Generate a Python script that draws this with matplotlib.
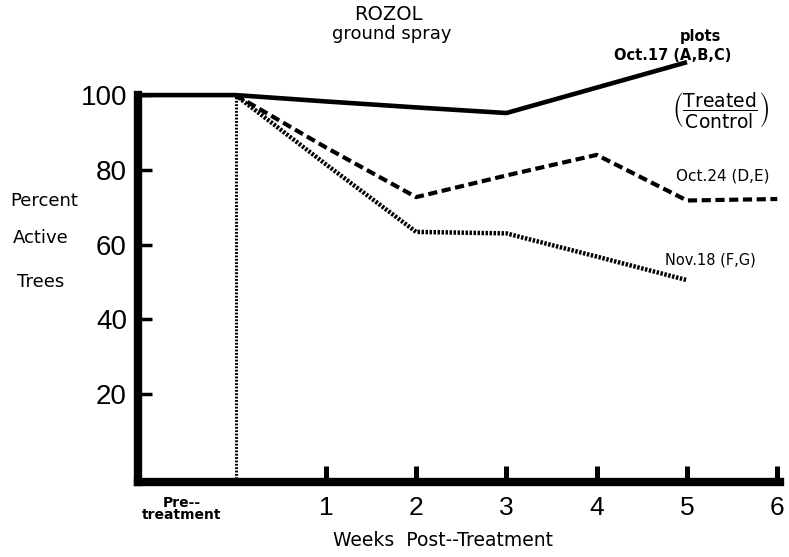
import matplotlib
matplotlib.use("Agg")
import matplotlib.pyplot as plt

# ---- data ----
x_labels = ["Pre--\ntreatment", "1", "2", "3", "4", "5", "6"]
x_ticks = [-0.6, 1, 2, 3, 4, 5, 6]
y_ticks = [20, 40, 60, 80, 100]

oct17_x = [-1.1, 0, 1, 2, 3, 4, 5]
oct17_y = [100, 100, 98.3, 96.7, 95.2, 102, 108.8]

oct24_x = [0, 1, 2, 3, 4, 5, 6]
oct24_y = [100, 86, 72.7, 78.5, 84, 71.8, 72.2]

nov18_x = [0, 1, 2, 3, 4, 5]
nov18_y = [100, 81.5, 63.4, 63.0, 56.8, 50.5]

treatment_week = 0

plt.rcParams['font.family'] = ['DejaVu Sans']
plt.rcParams['mathtext.fontset'] = 'dejavusans'

W, H = 789, 557
fig = plt.figure(figsize=(W/100, H/100), dpi=100)
ax = fig.add_axes([138/W, 1-482/H, (780-138)/W, (482-39)/H])
ax.set_xlim(-1.08, 6.03)
ax.set_ylim(-3.5, 115)

for s in ['top', 'right']:
    ax.spines[s].set_visible(False)
for s in ['left', 'bottom']:
    ax.spines[s].set_linewidth(6)
    ax.spines[s].set_capstyle('projecting')
ax.spines['left'].set_bounds(-3.5, 100)

ax.plot(oct17_x, oct17_y, color='black', lw=3.3, solid_joinstyle='miter', solid_capstyle='butt')
ax.plot(oct24_x, oct24_y, color='black', lw=3, dashes=(2.2, 1.1))
ax.plot(nov18_x, nov18_y, color='black', lw=3.2, dashes=(0.55, 0.35))
ax.vlines(treatment_week, -3.5, 100, color='black', lw=2.2, linestyles=(0, (0.6, 0.5)))

ax.set_xticks(x_ticks)
ax.set_xticklabels(x_labels)
ax.set_yticks(y_ticks)
ax.set_yticklabels([str(v) for v in y_ticks])
ax.tick_params(axis='x', direction='in', length=11.5, width=3.6, pad=10, labelsize=19)
ax.tick_params(axis='y', direction='in', length=10, width=2.5, pad=8, labelsize=20)
for lab in ax.get_yticklabels() + ax.get_xticklabels():
    lab.set_family(['Liberation Sans', 'DejaVu Sans'])
t0 = ax.xaxis.get_major_ticks()[0]
t0.tick1line.set_visible(False)
pl = ax.get_xticklabels()[0]
pl.set_fontsize(10)
pl.set_fontweight('bold')
pl.set_linespacing(0.85)
pl.set_family(['DejaVu Sans'])

# titles and annotations
def ftxt(x, y, s, **kw):
    fig.text(x/W, 1-y/H, s, ha='center', va='center', **kw)

ftxt(388, 14, "ROZOL", fontsize=14)
ftxt(392, 34, "ground spray", fontsize=13)
ftxt(700, 37, "plots", fontsize=10.5, fontweight='bold')
ftxt(673, 55, "Oct.17 (A,B,C)", fontsize=10.5, fontweight='bold')
ftxt(721, 110, r'$\left(\dfrac{\mathrm{Treated}}{\mathrm{Control}}\right)$', fontsize=13.5)
ftxt(723, 176, "Oct.24 (D,E)", fontsize=11)
ftxt(710, 260, "Nov.18 (F,G)", fontsize=10.5)

ftxt(44, 201, "Percent", fontsize=13)
ftxt(41, 238, "Active", fontsize=13)
ftxt(41, 282, "Trees", fontsize=13)
ftxt(443, 541, "Weeks  Post--Treatment", fontsize=13.5)

fig.savefig("out.png", dpi=100)
